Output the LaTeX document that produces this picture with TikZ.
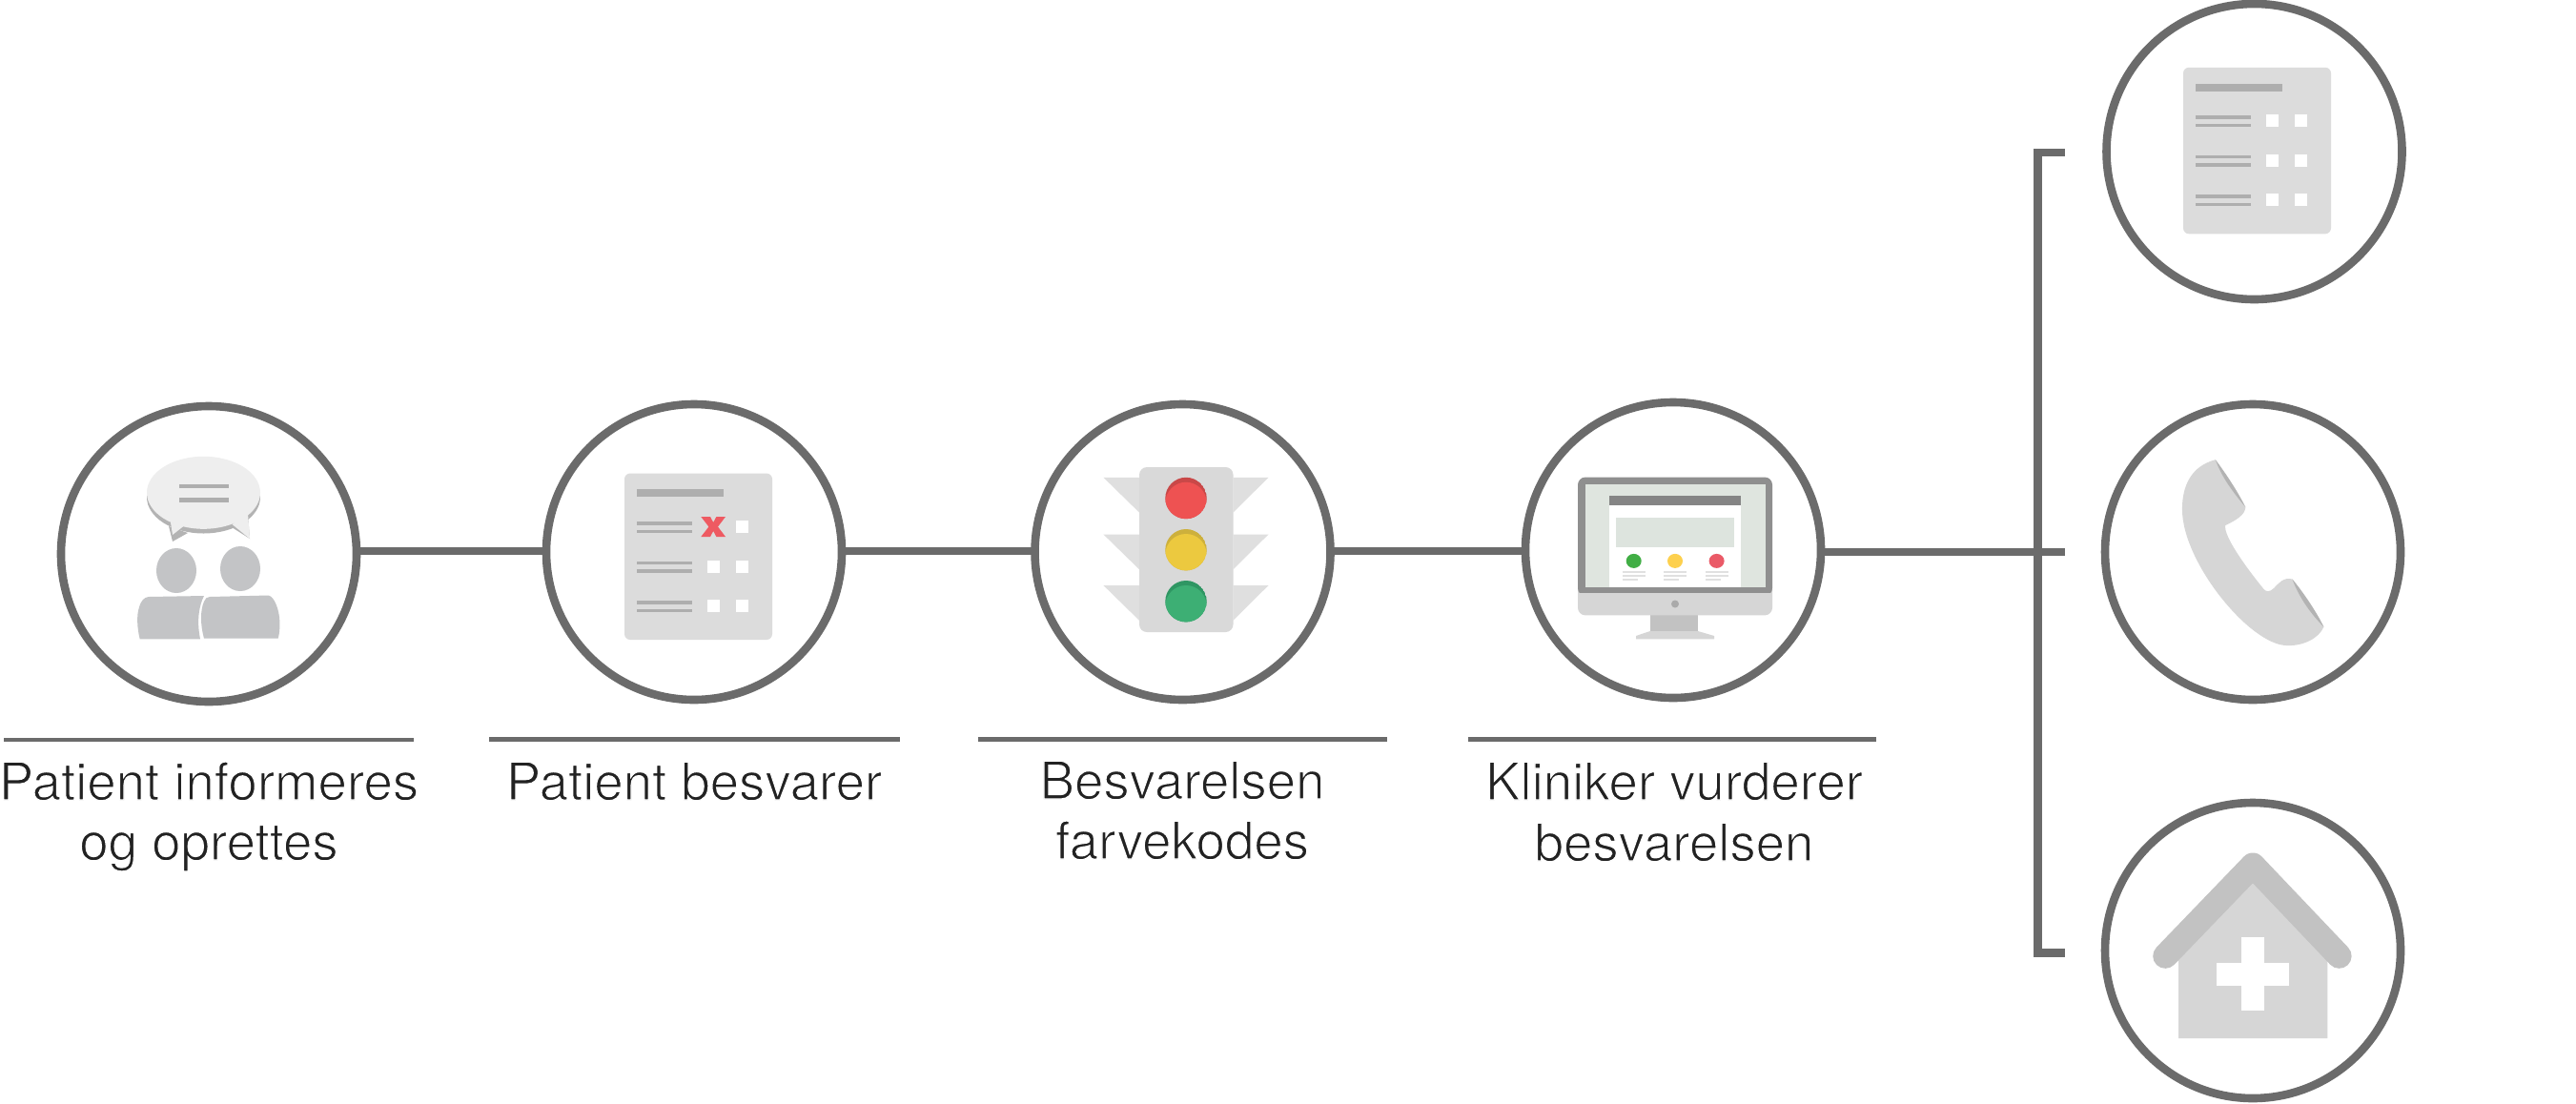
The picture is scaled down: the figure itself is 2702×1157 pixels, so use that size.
\documentclass[tikz,border=0pt]{standalone}
\usepackage{fontspec}
\setmainfont{TeX Gyre Heros}
\definecolor{lnc}{HTML}{6B6B6B}
\definecolor{txt}{HTML}{222222}
\definecolor{formbg}{HTML}{DCDCDC}
\definecolor{formln}{HTML}{AEAEAE}
\definecolor{persona}{HTML}{C3C4C6}
\definecolor{bubble}{HTML}{EEEEEE}
\definecolor{bubsh}{HTML}{B3B3B3}
\definecolor{tlbody}{HTML}{D9D9D9}
\definecolor{tlwing}{HTML}{DFDFDF}
\definecolor{iconlt}{HTML}{D6D6D6}
\definecolor{iconmd}{HTML}{C2C2C2}
\definecolor{xred}{HTML}{EE5A62}
\definecolor{redd}{HTML}{C94848}
\definecolor{redm}{HTML}{EE5252}
\definecolor{yeld}{HTML}{CDB03C}
\definecolor{yelm}{HTML}{ECC93F}
\definecolor{gred}{HTML}{2F9663}
\definecolor{grem}{HTML}{3DAF74}
\definecolor{monfr}{HTML}{8F8F8F}
\definecolor{monsc}{HTML}{DFE5DF}
\definecolor{monhd}{HTML}{858585}
\definecolor{monbl}{HTML}{DDE4DE}
\definecolor{dotg}{HTML}{41AE45}
\definecolor{doty}{HTML}{FDD04E}
\definecolor{dotr}{HTML}{EA5A67}
\definecolor{montx}{HTML}{E0E0E0}
\definecolor{monbt}{HTML}{AAAAAA}
\newcommand{\thintext}[1]{\special{pdf:code 2 Tr 1 1 1 RG 0.6 w}#1\special{pdf:code 0 Tr 0 w}}
\newcommand{\formicon}[2]{%
  \begin{scope}[shift={(#1,#2)}]
    \fill[formbg,rounded corners=3pt] (655,496.5) rectangle (810,671);
    \fill[formln] (668.4,513.4) rectangle (759.4,521.4);
    \foreach \yy in {547,588.5,630}{
      \fill[formln] (668.4,\yy) rectangle (726,\yy+3.5);
      \fill[formln] (668.4,\yy+8.5) rectangle (726,\yy+12);
      \fill[white] (771.7,\yy-1) rectangle (784.6,\yy+12);
    }
    \foreach \yy in {587.7,629}{\fill[white] (742.4,\yy) rectangle (755.3,\yy+13);}
  \end{scope}}
\newcommand{\tlamp}[3]{%
  \begin{scope}
    \clip (1244,#1) ellipse [x radius=21.7,y radius=21.7];
    \fill[#2] (1244,#1) ellipse [x radius=21.7,y radius=21.7];
    \fill[#3] (1244,#1+5) ellipse [x radius=21.7,y radius=21.7];
  \end{scope}}
\newcommand{\wing}[1]{%
  \fill[tlwing] (1157.4,#1) -- (1195,#1) -- (1195,#1+36.8) -- cycle;
  \fill[tlwing] (1330.5,#1) -- (1293.5,#1) -- (1293.5,#1+36.8) -- cycle;}
\tikzset{
  x=0.5pt,y=-0.5pt,
  stepcirc/.style={circle,draw=lnc,line width=4.3pt,fill=white,minimum size=155pt,inner sep=0pt,outer sep=0pt},
  conn/.style={draw=lnc,line width=4.3pt},
  rulel/.style={draw=lnc,line width=2.2pt},
  lab/.style={anchor=base,text=txt,inner sep=0pt,font=\fontsize{27.3}{32}\selectfont}
}
\begin{document}
\begin{tikzpicture}
\useasboundingbox (0,0) rectangle (2702,1157);
\fill[white] (0,0) rectangle (2702,1157);
% circles
\node[stepcirc] (c1) at (219,581) {};
\node[stepcirc] (c2) at (728,579) {};
\node[stepcirc] (c3) at (1240.5,579) {};
\node[stepcirc] (c4) at (1755,577) {};
\node[stepcirc] (c5) at (2364.5,159) {};
\node[stepcirc] (c6) at (2363,579) {};
\node[stepcirc] (c7) at (2363,997) {};
% connectors
\coordinate (bus) at (0,578);
\coordinate (busb) at (0,579);
\coordinate (bt) at (2165.6,160);
\coordinate (bm) at (2165.6,579);
\coordinate (bb) at (2165.6,999.3);
\coordinate (bv) at (2137.6,579);
\draw[conn] (c1.east |- bus) -- (c2.west |- bus);
\draw[conn] (c2.east |- bus) -- (c3.west |- bus);
\draw[conn] (c3.east |- bus) -- (c4.west |- bus);
\draw[conn] (c4.east |- busb) -- (bm);
\draw[conn] (bt) -- (bv |- bt) -- (bv |- bb) -- (bb);
% underlines
\draw[rulel] (4,776) -- (434,776);
\draw[rulel] (513,775.5) -- (944,775.5);
\draw[rulel] (1025.5,775.5) -- (1455,775.5);
\draw[rulel] (1540,775.5) -- (1968,775.5);
% labels
\node[lab] (t1a) at (219,839) {\thintext{Patient informeres}};
\node[lab] (t1b) at (219,902) {\thintext{og oprettes}};
\node[lab] (t2a) at (728,839) {\thintext{Patient besvarer}};
\node[lab] (t3a) at (1240,838) {\thintext{Besvarelsen}};
\node[lab] (t3b) at (1240,901) {\thintext{farvekodes}};
\node[lab] (t4a) at (1756,839) {\thintext{Kliniker vurderer}};
\node[lab] (t4b) at (1756,903) {\thintext{besvarelsen}};
% icon 1
\fill[bubsh] (213.5,521.5) ellipse [x radius=59.5,y radius=38];
\fill[bubsh] (177,552) -- (181,568) -- (197,559) -- cycle;
\fill[bubsh] (243,553) -- (262,565) -- (260,540) -- cycle;
\fill[bubble] (213.5,516.8) ellipse [x radius=59.5,y radius=38];
\fill[bubble] (179,548) -- (181,561) -- (195,550) -- cycle;
\fill[bubble] (243.5,550) -- (262,565) -- (260,539) -- cycle;
\fill[formln] (188,508) rectangle (239.5,512);
\fill[formln] (188,522.4) rectangle (239.5,526.7);
\fill[persona] (185,598.5) ellipse [x radius=21,y radius=23.5];
\fill[persona] (252,596.5) ellipse [x radius=21,y radius=23.5];
\fill[persona] (146.7,670.3) .. controls (144,660) and (143,645) .. (146,637) .. controls (148,630) and (151,626.5) .. (156,626) -- (214,625) .. controls (209,635) and (206,650) .. (210,670.3) -- cycle;
\fill[persona] (214,669.6) .. controls (210,655) and (210,640) .. (214,631) .. controls (215,628) and (217,626) .. (220,626) -- (281.7,624.5) .. controls (288,626) and (293,640) .. (293.4,652) .. controls (293.6,660) and (293,665) .. (291.7,669.6) -- cycle;
% icon 2
\formicon{0}{0}
\fill[white] (771.7,546) rectangle (784.6,559);
\fill[xred] (735.3,542) -- (745,542) -- (748.2,548) -- (751.4,542) -- (761,542) -- (753,552.5) -- (761,563) -- (751.4,563) -- (748.2,557) -- (745,563) -- (735.3,563) -- (743.4,552.5) -- cycle;
% icon 3
\wing{500.8}\wing{560.5}\wing{614}
\fill[tlbody,rounded corners=4pt] (1195,490) rectangle (1293.5,663);
\tlamp{522.5}{redd}{redm}
\tlamp{576.7}{yeld}{yelm}
\tlamp{630.7}{gred}{grem}
% icon 4
\fill[iconmd] (1730.7,640) rectangle (1781,663);
\fill[iconlt] (1730.7,662) -- (1781,662) -- (1798,667) -- (1798,670.3) -- (1716,670.3) -- (1716,667) -- cycle;
\fill[iconlt,rounded corners=4pt] (1655,610) rectangle (1859,645.4);
\fill[monfr,rounded corners=4pt] (1655,500.5) rectangle (1859,625);
\fill[iconlt] (1655,622) rectangle (1859,630);
\fill[monsc] (1663.3,508) rectangle (1852,615.6);
\fill[white] (1688,520) rectangle (1826.4,615.6);
\fill[monhd] (1688,520) rectangle (1826.4,530);
\fill[monbl] (1695,543.3) rectangle (1819,574);
\fill[dotg] (1713.7,588.4) ellipse [x radius=8,y radius=7.5];
\fill[doty] (1757,588.4) ellipse [x radius=8,y radius=7.5];
\fill[dotr] (1800.6,588.4) ellipse [x radius=8,y radius=7.5];
\foreach \xx in {1702,1745,1789}{
  \draw[montx,line width=0.7pt] (\xx,600) -- (\xx+24,600) (\xx,604) -- (\xx+24,604) (\xx,608) -- (\xx+16,608);}
\fill[monbt] (1757,633.5) circle [radius=4];
% icon 5
\formicon{1635}{-425.7}
\fill[white] (2377.4,120.3) rectangle (2390.3,133.3);
% icon 6 phone
\fill[iconlt] (2323.8,482.2) .. controls (2298,489) and (2288.9,510) .. (2288.9,534)
  .. controls (2288.9,590) and (2360,676) .. (2398,677)
  .. controls (2415,678) and (2432,670) .. (2437.4,657.6)
  -- (2404.4,607.5)
  .. controls (2395,605) and (2390,612) .. (2385,617)
  .. controls (2381,621) and (2377,621) .. (2374.5,618)
  .. controls (2355,594) and (2332,562) .. (2334.2,551)
  .. controls (2345,546) and (2355,540) .. (2355.3,532) -- cycle;
\fill[bubsh] (2323.8,482.2) .. controls (2335,497) and (2348,517) .. (2355.3,532) .. controls (2342,516) and (2330,500) .. cycle;
\fill[bubsh] (2404.4,607.5) .. controls (2415,620) and (2430,642) .. (2437.4,657.6) .. controls (2425,645) and (2412,628) .. cycle;
% icon 7 house
\fill[iconlt] (2285,1089) -- (2285,1005) -- (2363,925) -- (2441.3,1005) -- (2441.3,1089) -- cycle;
\draw[iconmd,line width=13pt,line cap=round,line join=round] (2271.2,1002.8) -- (2363,907.5) -- (2453.6,1002.8);
\fill[white] (2325,1009.7) rectangle (2401.3,1033.5);
\fill[white] (2351,982.6) rectangle (2375.2,1060.3);
\end{tikzpicture}
\end{document}
